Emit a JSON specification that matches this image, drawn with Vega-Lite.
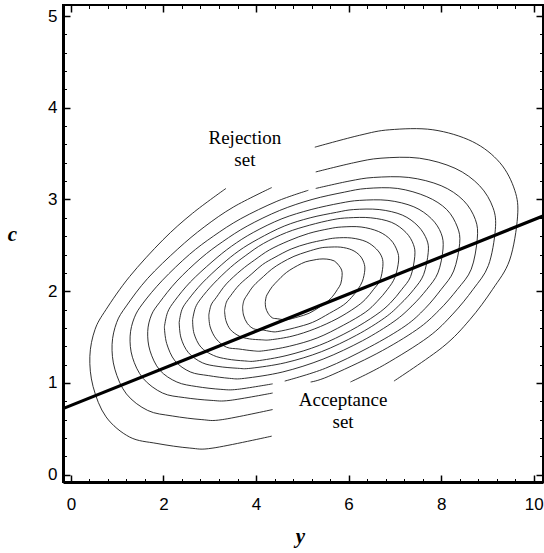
{
"$schema": "https://vega.github.io/schema/vega-lite/v6.json",
"width": 480, "height": 477,
"autosize": {"type": "none"},
"padding": {"left": 63, "top": 5, "right": 1, "bottom": 71},
"background": "white",
"config": {"view": {"stroke": "black", "strokeWidth": 2}, "axis": {"grid": false, "tickColor": "black", "domainColor": "black", "labelColor": "black", "titleColor": "black"}},
"datasets": {
"contours": [
{"c":"1a","i":1,"x":4.34,"y":0.42},{"c":"1a","i":2,"x":3.07,"y":0.29},{"c":"1a","i":3,"x":2.57,"y":0.29},{"c":"1a","i":4,"x":1.86,"y":0.34},{"c":"1a","i":5,"x":1.27,"y":0.41},{"c":"1a","i":6,"x":0.76,"y":0.63},{"c":"1a","i":7,"x":0.48,"y":0.96},{"c":"1a","i":8,"x":0.41,"y":1.29},{"c":"1a","i":9,"x":0.52,"y":1.58},{"c":"1a","i":10,"x":0.76,"y":1.80},{"c":"1a","i":11,"x":1.27,"y":2.16},{"c":"1a","i":12,"x":1.99,"y":2.56},{"c":"1a","i":13,"x":2.63,"y":2.85},{"c":"1a","i":14,"x":3.35,"y":3.12},
{"c":"1b","i":1,"x":5.27,"y":3.57},{"c":"1b","i":2,"x":6.24,"y":3.70},{"c":"1b","i":3,"x":6.89,"y":3.76},{"c":"1b","i":4,"x":7.82,"y":3.76},{"c":"1b","i":5,"x":8.68,"y":3.63},{"c":"1b","i":6,"x":9.27,"y":3.40},{"c":"1b","i":7,"x":9.59,"y":3.10},{"c":"1b","i":8,"x":9.65,"y":2.81},{"c":"1b","i":9,"x":9.48,"y":2.34},{"c":"1b","i":10,"x":9.11,"y":2.02},{"c":"1b","i":11,"x":8.62,"y":1.69},{"c":"1b","i":12,"x":8.03,"y":1.39},{"c":"1b","i":13,"x":6.98,"y":1.02},
{"c":"2a","i":1,"x":4.36,"y":0.71},{"c":"2a","i":2,"x":3.27,"y":0.60},{"c":"2a","i":3,"x":2.83,"y":0.60},{"c":"2a","i":4,"x":2.19,"y":0.64},{"c":"2a","i":5,"x":1.66,"y":0.70},{"c":"2a","i":6,"x":1.20,"y":0.88},{"c":"2a","i":7,"x":0.95,"y":1.15},{"c":"2a","i":8,"x":0.89,"y":1.42},{"c":"2a","i":9,"x":0.99,"y":1.66},{"c":"2a","i":10,"x":1.20,"y":1.84},{"c":"2a","i":11,"x":1.66,"y":2.14},{"c":"2a","i":12,"x":2.31,"y":2.46},{"c":"2a","i":13,"x":2.88,"y":2.70},{"c":"2a","i":14,"x":3.52,"y":2.92},{"c":"2a","i":15,"x":4.34,"y":3.13},
{"c":"2b","i":1,"x":5.29,"y":3.30},{"c":"2b","i":2,"x":6.11,"y":3.40},{"c":"2b","i":3,"x":6.70,"y":3.45},{"c":"2b","i":4,"x":7.53,"y":3.45},{"c":"2b","i":5,"x":8.30,"y":3.34},{"c":"2b","i":6,"x":8.83,"y":3.15},{"c":"2b","i":7,"x":9.12,"y":2.91},{"c":"2b","i":8,"x":9.17,"y":2.67},{"c":"2b","i":9,"x":9.02,"y":2.28},{"c":"2b","i":10,"x":8.69,"y":2.02},{"c":"2b","i":11,"x":8.25,"y":1.75},{"c":"2b","i":12,"x":7.72,"y":1.50},{"c":"2b","i":13,"x":6.78,"y":1.20},{"c":"2b","i":14,"x":6.04,"y":1.01},
{"c":"3a","i":1,"x":4.36,"y":0.89},{"c":"3a","i":2,"x":3.44,"y":0.81},{"c":"3a","i":3,"x":3.03,"y":0.81},{"c":"3a","i":4,"x":2.45,"y":0.84},{"c":"3a","i":5,"x":1.98,"y":0.89},{"c":"3a","i":6,"x":1.56,"y":1.05},{"c":"3a","i":7,"x":1.33,"y":1.28},{"c":"3a","i":8,"x":1.28,"y":1.51},{"c":"3a","i":9,"x":1.37,"y":1.71},{"c":"3a","i":10,"x":1.56,"y":1.87},{"c":"3a","i":11,"x":1.98,"y":2.12},{"c":"3a","i":12,"x":2.56,"y":2.40},{"c":"3a","i":13,"x":3.08,"y":2.60},{"c":"3a","i":14,"x":3.67,"y":2.79},{"c":"3a","i":15,"x":4.45,"y":2.98},{"c":"3a","i":16,"x":5.13,"y":3.10},
{"c":"3b","i":1,"x":5.29,"y":3.12},{"c":"3b","i":2,"x":6.01,"y":3.20},{"c":"3b","i":3,"x":6.54,"y":3.24},{"c":"3b","i":4,"x":7.30,"y":3.24},{"c":"3b","i":5,"x":8.00,"y":3.15},{"c":"3b","i":6,"x":8.48,"y":2.99},{"c":"3b","i":7,"x":8.74,"y":2.78},{"c":"3b","i":8,"x":8.78,"y":2.57},{"c":"3b","i":9,"x":8.65,"y":2.24},{"c":"3b","i":10,"x":8.35,"y":2.02},{"c":"3b","i":11,"x":7.95,"y":1.79},{"c":"3b","i":12,"x":7.47,"y":1.58},{"c":"3b","i":13,"x":6.61,"y":1.32},{"c":"3b","i":14,"x":5.56,"y":1.07},{"c":"3b","i":15,"x":5.18,"y":1.01},
{"c":"4","i":1,"x":4.36,"y":0.99},{"c":"4","i":2,"x":3.60,"y":0.93},{"c":"4","i":3,"x":3.24,"y":0.93},{"c":"4","i":4,"x":2.72,"y":0.96},{"c":"4","i":5,"x":2.29,"y":1.01},{"c":"4","i":6,"x":1.92,"y":1.14},{"c":"4","i":7,"x":1.71,"y":1.35},{"c":"4","i":8,"x":1.66,"y":1.56},{"c":"4","i":9,"x":1.74,"y":1.74},{"c":"4","i":10,"x":1.92,"y":1.88},{"c":"4","i":11,"x":2.29,"y":2.11},{"c":"4","i":12,"x":2.81,"y":2.36},{"c":"4","i":13,"x":3.28,"y":2.54},{"c":"4","i":14,"x":3.81,"y":2.71},{"c":"4","i":15,"x":4.51,"y":2.88},{"c":"4","i":16,"x":5.21,"y":3.00},{"c":"4","i":17,"x":5.91,"y":3.08},{"c":"4","i":18,"x":6.39,"y":3.12},{"c":"4","i":19,"x":7.06,"y":3.12},{"c":"4","i":20,"x":7.69,"y":3.03},{"c":"4","i":21,"x":8.12,"y":2.89},{"c":"4","i":22,"x":8.35,"y":2.70},{"c":"4","i":23,"x":8.40,"y":2.52},{"c":"4","i":24,"x":8.27,"y":2.22},{"c":"4","i":25,"x":8.00,"y":2.02},{"c":"4","i":26,"x":7.65,"y":1.81},{"c":"4","i":27,"x":7.22,"y":1.62},{"c":"4","i":28,"x":6.45,"y":1.39},{"c":"4","i":29,"x":5.50,"y":1.16},{"c":"4","i":30,"x":4.62,"y":1.02},
{"c":"5","i":1,"x":2.02,"y":1.61},{"c":"5","i":2,"x":2.09,"y":1.77},{"c":"5","i":3,"x":2.25,"y":1.90},{"c":"5","i":4,"x":2.58,"y":2.10},{"c":"5","i":5,"x":3.05,"y":2.32},{"c":"5","i":6,"x":3.47,"y":2.49},{"c":"5","i":7,"x":3.94,"y":2.64},{"c":"5","i":8,"x":4.56,"y":2.79},{"c":"5","i":9,"x":5.19,"y":2.89},{"c":"5","i":10,"x":5.82,"y":2.96},{"c":"5","i":11,"x":6.24,"y":2.99},{"c":"5","i":12,"x":6.85,"y":2.99},{"c":"5","i":13,"x":7.41,"y":2.92},{"c":"5","i":14,"x":7.79,"y":2.79},{"c":"5","i":15,"x":8.00,"y":2.63},{"c":"5","i":16,"x":8.04,"y":2.46},{"c":"5","i":17,"x":7.93,"y":2.20},{"c":"5","i":18,"x":7.69,"y":2.02},{"c":"5","i":19,"x":7.37,"y":1.84},{"c":"5","i":20,"x":6.98,"y":1.67},{"c":"5","i":21,"x":6.30,"y":1.46},{"c":"5","i":22,"x":5.45,"y":1.26},{"c":"5","i":23,"x":4.58,"y":1.12},{"c":"5","i":24,"x":3.75,"y":1.05},{"c":"5","i":25,"x":3.43,"y":1.05},{"c":"5","i":26,"x":2.97,"y":1.08},{"c":"5","i":27,"x":2.58,"y":1.12},{"c":"5","i":28,"x":2.25,"y":1.24},{"c":"5","i":29,"x":2.07,"y":1.43},{"c":"5","i":30,"x":2.02,"y":1.61},
{"c":"6","i":1,"x":2.34,"y":1.66},{"c":"6","i":2,"x":2.40,"y":1.80},{"c":"6","i":3,"x":2.54,"y":1.91},{"c":"6","i":4,"x":2.84,"y":2.09},{"c":"6","i":5,"x":3.26,"y":2.29},{"c":"6","i":6,"x":3.63,"y":2.44},{"c":"6","i":7,"x":4.05,"y":2.57},{"c":"6","i":8,"x":4.61,"y":2.71},{"c":"6","i":9,"x":5.17,"y":2.80},{"c":"6","i":10,"x":5.74,"y":2.86},{"c":"6","i":11,"x":6.11,"y":2.89},{"c":"6","i":12,"x":6.66,"y":2.89},{"c":"6","i":13,"x":7.16,"y":2.83},{"c":"6","i":14,"x":7.50,"y":2.71},{"c":"6","i":15,"x":7.69,"y":2.56},{"c":"6","i":16,"x":7.72,"y":2.42},{"c":"6","i":17,"x":7.62,"y":2.18},{"c":"6","i":18,"x":7.41,"y":2.02},{"c":"6","i":19,"x":7.12,"y":1.86},{"c":"6","i":20,"x":6.78,"y":1.71},{"c":"6","i":21,"x":6.17,"y":1.52},{"c":"6","i":22,"x":5.41,"y":1.34},{"c":"6","i":23,"x":4.63,"y":1.22},{"c":"6","i":24,"x":3.89,"y":1.16},{"c":"6","i":25,"x":3.60,"y":1.16},{"c":"6","i":26,"x":3.18,"y":1.18},{"c":"6","i":27,"x":2.84,"y":1.22},{"c":"6","i":28,"x":2.54,"y":1.33},{"c":"6","i":29,"x":2.38,"y":1.49},{"c":"6","i":30,"x":2.34,"y":1.66},
{"c":"7","i":1,"x":2.63,"y":1.69},{"c":"7","i":2,"x":2.69,"y":1.82},{"c":"7","i":3,"x":2.81,"y":1.92},{"c":"7","i":4,"x":3.08,"y":2.08},{"c":"7","i":5,"x":3.45,"y":2.26},{"c":"7","i":6,"x":3.78,"y":2.39},{"c":"7","i":7,"x":4.16,"y":2.52},{"c":"7","i":8,"x":4.66,"y":2.64},{"c":"7","i":9,"x":5.16,"y":2.72},{"c":"7","i":10,"x":5.66,"y":2.78},{"c":"7","i":11,"x":6.00,"y":2.80},{"c":"7","i":12,"x":6.48,"y":2.80},{"c":"7","i":13,"x":6.93,"y":2.75},{"c":"7","i":14,"x":7.24,"y":2.64},{"c":"7","i":15,"x":7.40,"y":2.51},{"c":"7","i":16,"x":7.43,"y":2.38},{"c":"7","i":17,"x":7.34,"y":2.16},{"c":"7","i":18,"x":7.15,"y":2.02},{"c":"7","i":19,"x":6.90,"y":1.87},{"c":"7","i":20,"x":6.59,"y":1.74},{"c":"7","i":21,"x":6.04,"y":1.57},{"c":"7","i":22,"x":5.37,"y":1.41},{"c":"7","i":23,"x":4.67,"y":1.30},{"c":"7","i":24,"x":4.01,"y":1.24},{"c":"7","i":25,"x":3.75,"y":1.24},{"c":"7","i":26,"x":3.38,"y":1.26},{"c":"7","i":27,"x":3.08,"y":1.30},{"c":"7","i":28,"x":2.81,"y":1.39},{"c":"7","i":29,"x":2.66,"y":1.54},{"c":"7","i":30,"x":2.63,"y":1.69},
{"c":"8","i":1,"x":2.98,"y":1.74},{"c":"8","i":2,"x":3.03,"y":1.85},{"c":"8","i":3,"x":3.14,"y":1.93},{"c":"8","i":4,"x":3.36,"y":2.08},{"c":"8","i":5,"x":3.68,"y":2.23},{"c":"8","i":6,"x":3.97,"y":2.34},{"c":"8","i":7,"x":4.29,"y":2.45},{"c":"8","i":8,"x":4.71,"y":2.55},{"c":"8","i":9,"x":5.14,"y":2.63},{"c":"8","i":10,"x":5.57,"y":2.68},{"c":"8","i":11,"x":5.85,"y":2.70},{"c":"8","i":12,"x":6.27,"y":2.70},{"c":"8","i":13,"x":6.65,"y":2.65},{"c":"8","i":14,"x":6.91,"y":2.56},{"c":"8","i":15,"x":7.05,"y":2.44},{"c":"8","i":16,"x":7.08,"y":2.33},{"c":"8","i":17,"x":7.00,"y":2.15},{"c":"8","i":18,"x":6.84,"y":2.02},{"c":"8","i":19,"x":6.62,"y":1.89},{"c":"8","i":20,"x":6.36,"y":1.77},{"c":"8","i":21,"x":5.89,"y":1.63},{"c":"8","i":22,"x":5.32,"y":1.49},{"c":"8","i":23,"x":4.72,"y":1.40},{"c":"8","i":24,"x":4.16,"y":1.35},{"c":"8","i":25,"x":3.94,"y":1.35},{"c":"8","i":26,"x":3.63,"y":1.37},{"c":"8","i":27,"x":3.36,"y":1.39},{"c":"8","i":28,"x":3.14,"y":1.48},{"c":"8","i":29,"x":3.01,"y":1.61},{"c":"8","i":30,"x":2.98,"y":1.74},
{"c":"9","i":1,"x":3.32,"y":1.79},{"c":"9","i":2,"x":3.36,"y":1.88},{"c":"9","i":3,"x":3.45,"y":1.95},{"c":"9","i":4,"x":3.64,"y":2.07},{"c":"9","i":5,"x":3.91,"y":2.19},{"c":"9","i":6,"x":4.14,"y":2.29},{"c":"9","i":7,"x":4.41,"y":2.37},{"c":"9","i":8,"x":4.76,"y":2.46},{"c":"9","i":9,"x":5.12,"y":2.52},{"c":"9","i":10,"x":5.48,"y":2.56},{"c":"9","i":11,"x":5.72,"y":2.58},{"c":"9","i":12,"x":6.06,"y":2.58},{"c":"9","i":13,"x":6.38,"y":2.54},{"c":"9","i":14,"x":6.60,"y":2.46},{"c":"9","i":15,"x":6.72,"y":2.37},{"c":"9","i":16,"x":6.74,"y":2.27},{"c":"9","i":17,"x":6.68,"y":2.12},{"c":"9","i":18,"x":6.54,"y":2.02},{"c":"9","i":19,"x":6.36,"y":1.91},{"c":"9","i":20,"x":6.14,"y":1.82},{"c":"9","i":21,"x":5.75,"y":1.70},{"c":"9","i":22,"x":5.27,"y":1.59},{"c":"9","i":23,"x":4.78,"y":1.51},{"c":"9","i":24,"x":4.31,"y":1.47},{"c":"9","i":25,"x":4.12,"y":1.47},{"c":"9","i":26,"x":3.86,"y":1.48},{"c":"9","i":27,"x":3.64,"y":1.51},{"c":"9","i":28,"x":3.45,"y":1.58},{"c":"9","i":29,"x":3.35,"y":1.68},{"c":"9","i":30,"x":3.32,"y":1.79},
{"c":"10","i":1,"x":3.71,"y":1.83},{"c":"10","i":2,"x":3.74,"y":1.90},{"c":"10","i":3,"x":3.81,"y":1.96},{"c":"10","i":4,"x":3.95,"y":2.06},{"c":"10","i":5,"x":4.16,"y":2.16},{"c":"10","i":6,"x":4.34,"y":2.24},{"c":"10","i":7,"x":4.55,"y":2.31},{"c":"10","i":8,"x":4.82,"y":2.38},{"c":"10","i":9,"x":5.10,"y":2.43},{"c":"10","i":10,"x":5.38,"y":2.47},{"c":"10","i":11,"x":5.56,"y":2.48},{"c":"10","i":12,"x":5.83,"y":2.48},{"c":"10","i":13,"x":6.07,"y":2.45},{"c":"10","i":14,"x":6.24,"y":2.39},{"c":"10","i":15,"x":6.33,"y":2.31},{"c":"10","i":16,"x":6.35,"y":2.23},{"c":"10","i":17,"x":6.30,"y":2.11},{"c":"10","i":18,"x":6.20,"y":2.02},{"c":"10","i":19,"x":6.06,"y":1.93},{"c":"10","i":20,"x":5.89,"y":1.85},{"c":"10","i":21,"x":5.59,"y":1.76},{"c":"10","i":22,"x":5.22,"y":1.66},{"c":"10","i":23,"x":4.83,"y":1.60},{"c":"10","i":24,"x":4.47,"y":1.56},{"c":"10","i":25,"x":4.33,"y":1.56},{"c":"10","i":26,"x":4.12,"y":1.58},{"c":"10","i":27,"x":3.95,"y":1.59},{"c":"10","i":28,"x":3.81,"y":1.65},{"c":"10","i":29,"x":3.73,"y":1.74},{"c":"10","i":30,"x":3.71,"y":1.83},
{"c":"11","i":1,"x":4.20,"y":1.88},{"c":"11","i":2,"x":4.22,"y":1.94},{"c":"11","i":3,"x":4.26,"y":1.98},{"c":"11","i":4,"x":4.35,"y":2.05},{"c":"11","i":5,"x":4.48,"y":2.12},{"c":"11","i":6,"x":4.60,"y":2.18},{"c":"11","i":7,"x":4.73,"y":2.23},{"c":"11","i":8,"x":4.90,"y":2.28},{"c":"11","i":9,"x":5.07,"y":2.32},{"c":"11","i":10,"x":5.25,"y":2.34},{"c":"11","i":11,"x":5.37,"y":2.35},{"c":"11","i":12,"x":5.53,"y":2.35},{"c":"11","i":13,"x":5.69,"y":2.33},{"c":"11","i":14,"x":5.79,"y":2.28},{"c":"11","i":15,"x":5.85,"y":2.23},{"c":"11","i":16,"x":5.86,"y":2.17},{"c":"11","i":17,"x":5.83,"y":2.08},{"c":"11","i":18,"x":5.76,"y":2.02},{"c":"11","i":19,"x":5.68,"y":1.96},{"c":"11","i":20,"x":5.57,"y":1.90},{"c":"11","i":21,"x":5.38,"y":1.83},{"c":"11","i":22,"x":5.15,"y":1.76},{"c":"11","i":23,"x":4.91,"y":1.72},{"c":"11","i":24,"x":4.68,"y":1.69},{"c":"11","i":25,"x":4.59,"y":1.69},{"c":"11","i":26,"x":4.46,"y":1.70},{"c":"11","i":27,"x":4.35,"y":1.71},{"c":"11","i":28,"x":4.26,"y":1.76},{"c":"11","i":29,"x":4.21,"y":1.82},{"c":"11","i":30,"x":4.20,"y":1.88}
],
"cut": [{"x": -0.17, "y": 0.72}, {"x": 10.2, "y": 2.82}],
"labels": [{"x": 3.76, "y": 3.67, "t": "Rejection"}, {"x": 3.76, "y": 3.43, "t": "set"}, {"x": 5.88, "y": 0.81, "t": "Acceptance"}, {"x": 5.88, "y": 0.57, "t": "set"}]
},
"layer": [
{
"data": {"name": "contours"},
"mark": {"type": "line", "stroke": "#1a1a1a", "strokeWidth": 0.9, "interpolate": "cardinal"},
"encoding": {
"x": {"field": "x", "type": "quantitative", "scale": {"domain": [-0.17, 10.2], "nice": false, "zero": false},
 "axis": {"orient": "bottom", "values": [0, 2, 4, 6, 8, 10], "tickSize": -7, "tickWidth": 1.5, "domainWidth": 3, "labelFont": "Liberation Sans", "labelFontSize": 17, "labelPadding": 21, "labelFlush": false, "labelOverlap": false, "labelBound": false,
  "title": "y", "titleFont": "Liberation Serif", "titleFontStyle": "italic", "titleFontWeight": "bold", "titleFontSize": 21, "titleX": 237, "titleY": 60, "titleBaseline": "alphabetic", "titleAlign": "center", "titleAnchor": null}},
"y": {"field": "y", "type": "quantitative", "scale": {"domain": [-0.08, 5.12], "nice": false, "zero": false},
 "axis": {"orient": "left", "values": [0, 1, 2, 3, 4, 5], "tickSize": -7, "tickWidth": 1.5, "domainWidth": 3, "labelFont": "Liberation Sans", "labelFontSize": 17, "labelPadding": 13, "labelFlush": false, "labelOverlap": false, "labelBound": false,
  "title": "c", "titleFont": "Liberation Serif", "titleFontStyle": "italic", "titleFontWeight": "bold", "titleFontSize": 21, "titleAngle": 0, "titleX": -51, "titleY": 235, "titleBaseline": "alphabetic", "titleAlign": "center", "titleAnchor": null}},
"detail": {"field": "c", "type": "nominal"},
"order": {"field": "i", "type": "quantitative"}
}
},
{
"data": {"name": "cut"},
"mark": {"type": "line", "stroke": "black", "strokeWidth": 3.2, "clip": true},
"encoding": {
"x": {"field": "x", "type": "quantitative", "scale": {"domain": [-0.17, 10.2], "nice": false, "zero": false},
 "axis": {"orient": "top", "values": [0, 2, 4, 6, 8, 10], "tickSize": -7, "tickWidth": 1.5, "labels": false, "domain": false, "title": null}},
"y": {"field": "y", "type": "quantitative", "scale": {"domain": [-0.08, 5.12], "nice": false, "zero": false},
 "axis": {"orient": "right", "values": [0, 1, 2, 3, 4, 5], "tickSize": -7, "tickWidth": 1.5, "labels": false, "domain": false, "title": null}}
}
},
{
"data": {"name": "labels"},
"mark": {"type": "text", "font": "Liberation Serif", "fontSize": 19, "color": "black", "baseline": "middle", "align": "center"},
"encoding": {
"x": {"field": "x", "type": "quantitative", "scale": {"domain": [-0.17, 10.2], "nice": false, "zero": false},
 "axis": {"orient": "bottom", "values": [0.4, 0.8, 1.2, 1.6, 2.4, 2.8, 3.2, 3.6, 4.4, 4.8, 5.2, 5.6, 6.4, 6.8, 7.2, 7.6, 8.4, 8.8, 9.2, 9.6], "tickSize": -3.5, "tickWidth": 1, "labels": false, "domain": false, "title": null}},
"y": {"field": "y", "type": "quantitative", "scale": {"domain": [-0.08, 5.12], "nice": false, "zero": false},
 "axis": {"orient": "left", "values": [0.2, 0.4, 0.6, 0.8, 1.2, 1.4, 1.6, 1.8, 2.2, 2.4, 2.6, 2.8, 3.2, 3.4, 3.6, 3.8, 4.2, 4.4, 4.6, 4.8], "tickSize": -3.5, "tickWidth": 1, "labels": false, "domain": false, "title": null}},
"text": {"field": "t", "type": "nominal"}
}
},
{
"data": {"name": "cut"},
"mark": {"type": "point", "opacity": 0},
"encoding": {
"x": {"field": "x", "type": "quantitative", "scale": {"domain": [-0.17, 10.2], "nice": false, "zero": false},
 "axis": {"orient": "top", "values": [0.4, 0.8, 1.2, 1.6, 2.4, 2.8, 3.2, 3.6, 4.4, 4.8, 5.2, 5.6, 6.4, 6.8, 7.2, 7.6, 8.4, 8.8, 9.2, 9.6], "tickSize": -3.5, "tickWidth": 1, "labels": false, "domain": false, "title": null}},
"y": {"field": "y", "type": "quantitative", "scale": {"domain": [-0.08, 5.12], "nice": false, "zero": false},
 "axis": {"orient": "right", "values": [0.2, 0.4, 0.6, 0.8, 1.2, 1.4, 1.6, 1.8, 2.2, 2.4, 2.6, 2.8, 3.2, 3.4, 3.6, 3.8, 4.2, 4.4, 4.6, 4.8], "tickSize": -3.5, "tickWidth": 1, "labels": false, "domain": false, "title": null}}
}
}
],
"resolve": {"axis": {"x": "independent", "y": "independent"}}
}
